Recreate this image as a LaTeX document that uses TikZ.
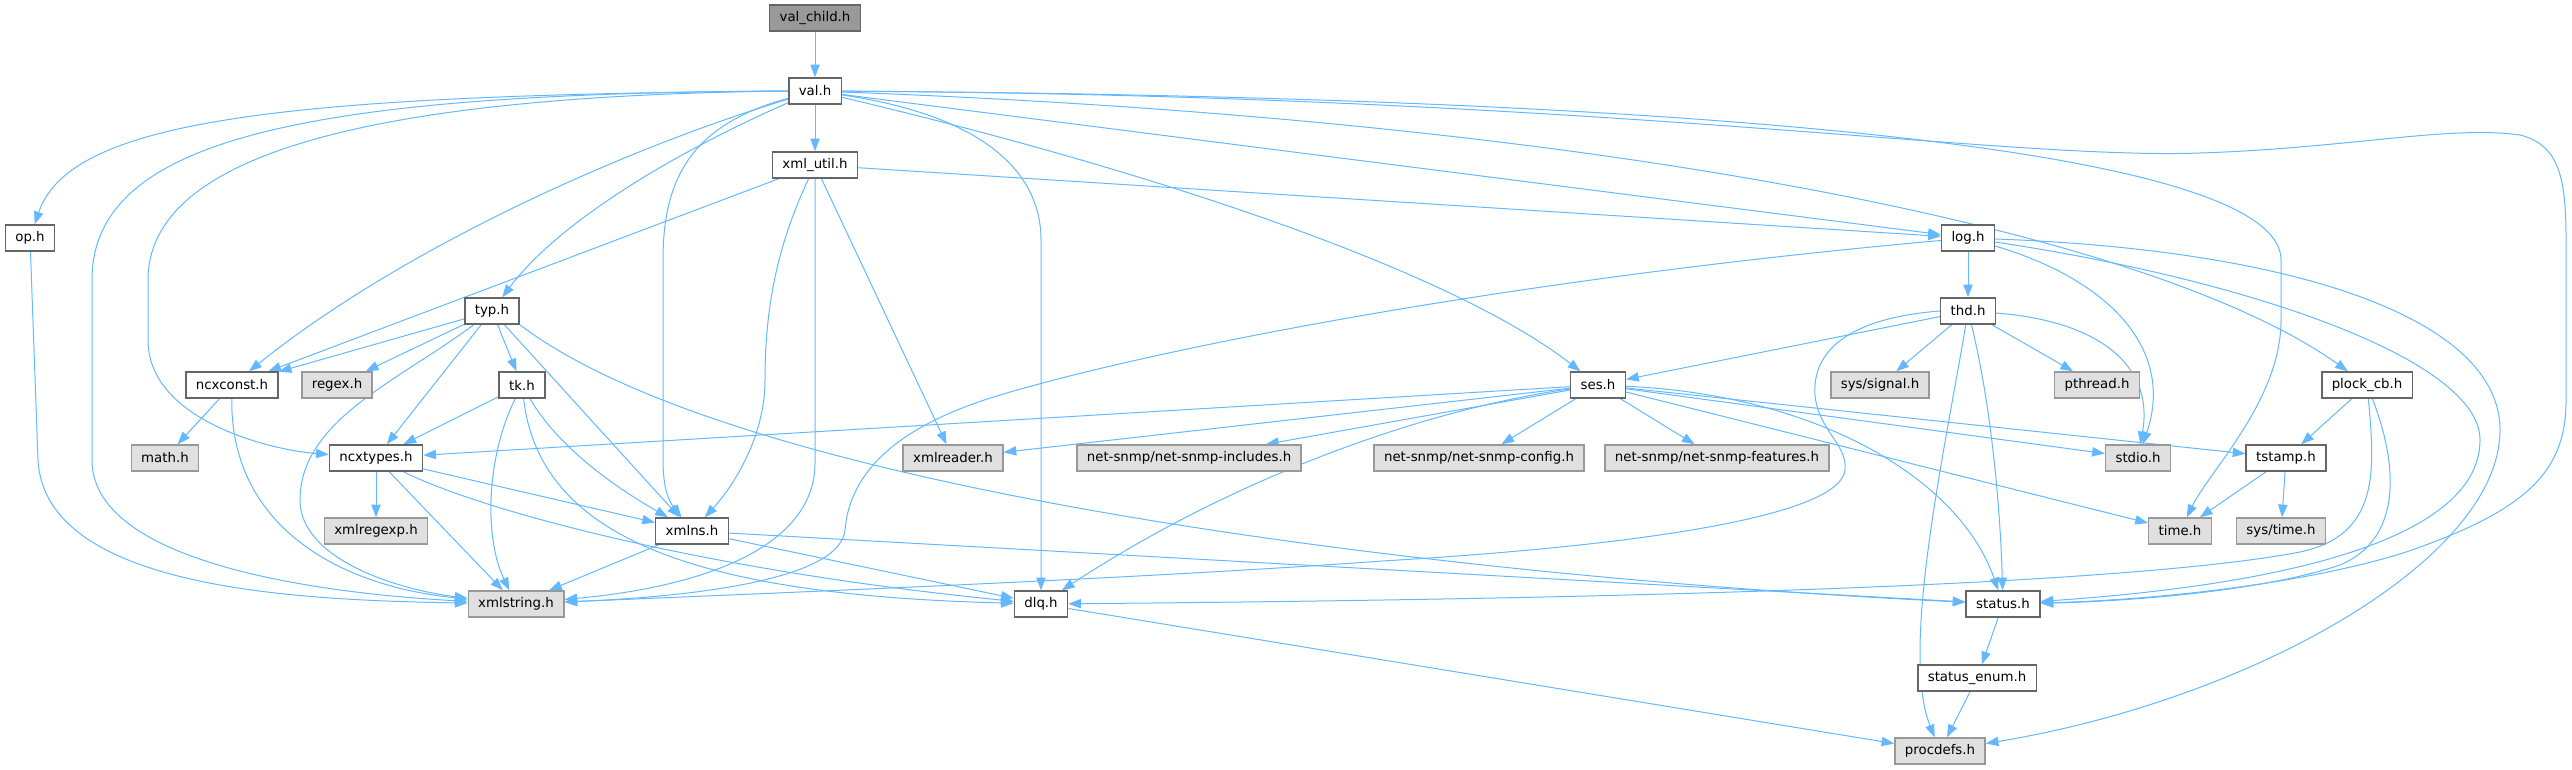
\documentclass[tikz,border=0pt]{standalone}
\usepackage{fontspec}
\setmainfont{DejaVu Sans}
\usetikzlibrary{arrows.meta}
\definecolor{edgeblue}{HTML}{63B8FF}
\definecolor{boxline}{HTML}{666666}
\definecolor{extline}{HTML}{999999}
\definecolor{extfill}{HTML}{E0E0E0}
\definecolor{rootfill}{HTML}{999999}
\pgfdeclarelayer{edges}
\pgfsetlayers{edges,main}
\tikzset{
  hdr/.style={draw=boxline, fill=white, line width=1.1pt, inner xsep=7.5pt, inner ysep=0pt,
    minimum height=19.5pt, font=\fontsize{10pt}{12pt}\selectfont},
  ext/.style={hdr, draw=extline, fill=extfill},
  root/.style={hdr, fill=rootfill},
  edge/.style={draw=edgeblue, line width=0.75pt, -{Triangle[length=9.5pt,width=7pt]}},
}

\begin{document}
\begin{tikzpicture}[x=0.75pt,y=-0.75pt]
            \useasboundingbox (0,0) rectangle (2572,769);
            \node[root] (valchild) at (815,18) {val\_child.h};
            \node[hdr] (val) at (815,91) {val.h};
            \node[hdr] (xmlutil) at (815,165) {xml\_util.h};
            \node[hdr] (op) at (30,238) {op.h};
            \node[hdr] (log) at (1968,238) {log.h};
            \node[hdr] (typ) at (492,311) {typ.h};
            \node[hdr] (thd) at (1968,311) {thd.h};
            \node[hdr] (ncxconst) at (232,385) {ncxconst.h};
            \node[ext] (regex) at (337,385) {regex.h};
            \node[hdr] (tk) at (522,385) {tk.h};
            \node[hdr] (ses) at (1598,385) {ses.h};
            \node[ext] (syssignal) at (1880,385) {sys/signal.h};
            \node[ext] (pthread) at (2097,385) {pthread.h};
            \node[hdr] (plockcb) at (2367,385) {plock\_cb.h};
            \node[ext] (math) at (165,458) {math.h};
            \node[hdr] (ncxtypes) at (376,458) {ncxtypes.h};
            \node[ext] (xmlreader) at (953,458) {xmlreader.h};
            \node[ext] (snmpinc) at (1189,458) {net-snmp/net-snmp-includes.h};
            \node[ext] (snmpconf) at (1479,458) {net-snmp/net-snmp-config.h};
            \node[ext] (snmpfeat) at (1717,458) {net-snmp/net-snmp-features.h};
            \node[ext] (stdio) at (2138,458) {stdio.h};
            \node[hdr] (tstamp) at (2286,458) {tstamp.h};
            \node[ext] (xmlregexp) at (376,531) {xmlregexp.h};
            \node[hdr] (xmlns) at (692,531) {xmlns.h};
            \node[ext] (time) at (2180,531) {time.h};
            \node[ext] (systime) at (2281,531) {sys/time.h};
            \node[ext] (xmlstring) at (516,604) {xmlstring.h};
            \node[hdr] (dlq) at (1041,604) {dlq.h};
            \node[hdr] (status) at (2003,604) {status.h};
            \node[hdr] (statusenum) at (1977,678) {status\_enum.h};
            \node[ext] (procdefs) at (1940,751) {procdefs.h};

            \begin{pgfonlayer}{edges}
            \draw[edge] (valchild) -- (val);
            \draw[edge] (val) -- (xmlutil);
            \draw[edge] (val.west) .. controls (280,95) and (70,120) .. (op);
            \draw[edge] (val.west) .. controls (300,93) and (92,140) .. (92,280) -- (92,460) .. controls (92,570) and (350,595) .. (xmlstring);
            \draw[edge] (val.west) .. controls (350,96) and (148,160) .. (148,280) -- (148,340) .. controls (148,420) and (270,450) .. (ncxtypes);
            \draw[edge] (val) .. controls (620,150) and (400,250) .. (ncxconst);
            \draw[edge] (val) .. controls (680,150) and (560,220) .. (typ);
            \draw[edge] (val) .. controls (690,125) and (663,180) .. (663,260) -- (663,460) .. controls (663,495) and (672,505) .. (xmlns);
            \draw[edge] (val) .. controls (980,115) and (1041,170) .. (1041,240) -- (dlq);
            \draw[edge] (val) .. controls (1150,170) and (1450,270) .. (ses);
            \draw[edge] (val) -- (log);
            \draw[edge] (val) .. controls (1600,120) and (2150,230) .. (plockcb);
            \draw[edge] (val) .. controls (1500,95) and (2281,130) .. (2281,260) -- (2281,320) .. controls (2281,400) and (2210,470) .. (time);
            \draw[edge] (val) .. controls (1600,95) and (2000,160) .. (2200,153) .. controls (2350,148) and (2450,125) .. (2520,135) .. controls (2560,145) and (2566,180) .. (2566,240) -- (2566,400) .. controls (2566,470) and (2530,510) .. (2403,553) .. controls (2300,585) and (2150,600) .. (status);

            \draw[edge] (xmlutil) -- (log);
            \draw[edge] (xmlutil) -- (ncxconst);
            \draw[edge] (xmlutil) .. controls (780,240) and (765,300) .. (765,380) .. controls (765,440) and (730,490) .. (xmlns);
            \draw[edge] (xmlutil) -- (815,463) .. controls (815,540) and (720,585) .. (xmlstring);
            \draw[edge] (xmlutil) -- (xmlreader);

            \draw[edge] (op) -- (38,460) .. controls (45,590) and (300,600) .. (xmlstring);

            \draw[edge] (log) -- (thd);
            \draw[edge] (log) .. controls (1500,280) and (1150,350) .. (1000,395) .. controls (900,425) and (850,470) .. (845,530) .. controls (840,585) and (660,598) .. (xmlstring);
            \draw[edge] (log) .. controls (2110,280) and (2175,350) .. (stdio);
            \draw[edge] (log) .. controls (2250,280) and (2480,360) .. (2480,440) .. controls (2480,520) and (2350,580) .. (status);
            \draw[edge] (log) .. controls (2300,250) and (2500,320) .. (2500,430) .. controls (2500,560) and (2250,700) .. (procdefs);

            \draw[edge] (thd) -- (ses);
            \draw[edge] (thd.west) .. controls (1850,318) and (1812,350) .. (1815,395) .. controls (1818,430) and (1848,445) .. (1845,470) .. controls (1840,515) and (1650,545) .. (1382,561) .. controls (1150,578) and (800,592) .. (xmlstring);
            \draw[edge] (thd) -- (syssignal);
            \draw[edge] (thd) -- (pthread);
            \draw[edge] (thd) .. controls (1945,450) and (1900,650) .. (procdefs);
            \draw[edge] (thd) .. controls (1990,400) and (2000,500) .. (status);
            \draw[edge] (thd) .. controls (2090,320) and (2155,360) .. (stdio);

            \draw[edge] (typ) -- (ncxconst);
            \draw[edge] (typ) -- (regex);
            \draw[edge] (typ) .. controls (400,380) and (300,420) .. (300,500) .. controls (300,560) and (400,590) .. (xmlstring);
            \draw[edge] (typ) -- (ncxtypes);
            \draw[edge] (typ) -- (tk);
            \draw[edge] (typ) -- (xmlns);
            \draw[edge] (typ.south east) .. controls (750,500) and (1500,580) .. (status);

            \draw[edge] (ncxconst) -- (math);
            \draw[edge] (ncxconst) .. controls (230,520) and (330,585) .. (xmlstring);

            \draw[edge] (tk) -- (ncxtypes);
            \draw[edge] (tk) .. controls (485,460) and (485,540) .. (xmlstring);
            \draw[edge] (tk) .. controls (560,450) and (620,490) .. (xmlns);
            \draw[edge] (tk) .. controls (540,540) and (700,595) .. (dlq);

            \draw[edge] (ncxtypes) -- (xmlregexp);
            \draw[edge] (ncxtypes) -- (xmlstring);
            \draw[edge] (ncxtypes) -- (xmlns);
            \draw[edge] (ncxtypes) .. controls (480,510) and (700,570) .. (dlq);

            \draw[edge] (xmlns) -- (xmlstring);
            \draw[edge] (xmlns) -- (dlq);
            \draw[edge] (xmlns) -- (status);

            \draw[edge] (ses) -- (ncxtypes);
            \draw[edge] (ses) -- (xmlreader);
            \draw[edge] (ses) -- (snmpinc);
            \draw[edge] (ses) -- (snmpconf);
            \draw[edge] (ses) -- (snmpfeat);
            \draw[edge] (ses) .. controls (1420,410) and (1230,480) .. (dlq);
            \draw[edge] (ses) .. controls (1820,395) and (1960,480) .. (status);
            \draw[edge] (ses) -- (time);
            \draw[edge] (ses) -- (stdio);
            \draw[edge] (ses) -- (tstamp);

            \draw[edge] (plockcb) -- (tstamp);
            \draw[edge] (plockcb) .. controls (2375,470) and (2380,535) .. (2300,552) .. controls (2100,590) and (1500,600) .. (dlq);
            \draw[edge] (plockcb) .. controls (2400,470) and (2400,540) .. (2340,565) .. controls (2250,595) and (2100,602) .. (status);

            \draw[edge] (tstamp) -- (time);
            \draw[edge] (tstamp) -- (systime);
            \draw[edge] (status) -- (statusenum);
            \draw[edge] (statusenum) -- (procdefs);
            \draw[edge] (dlq) -- (procdefs);
            \end{pgfonlayer}
          \end{tikzpicture}
\end{document}
